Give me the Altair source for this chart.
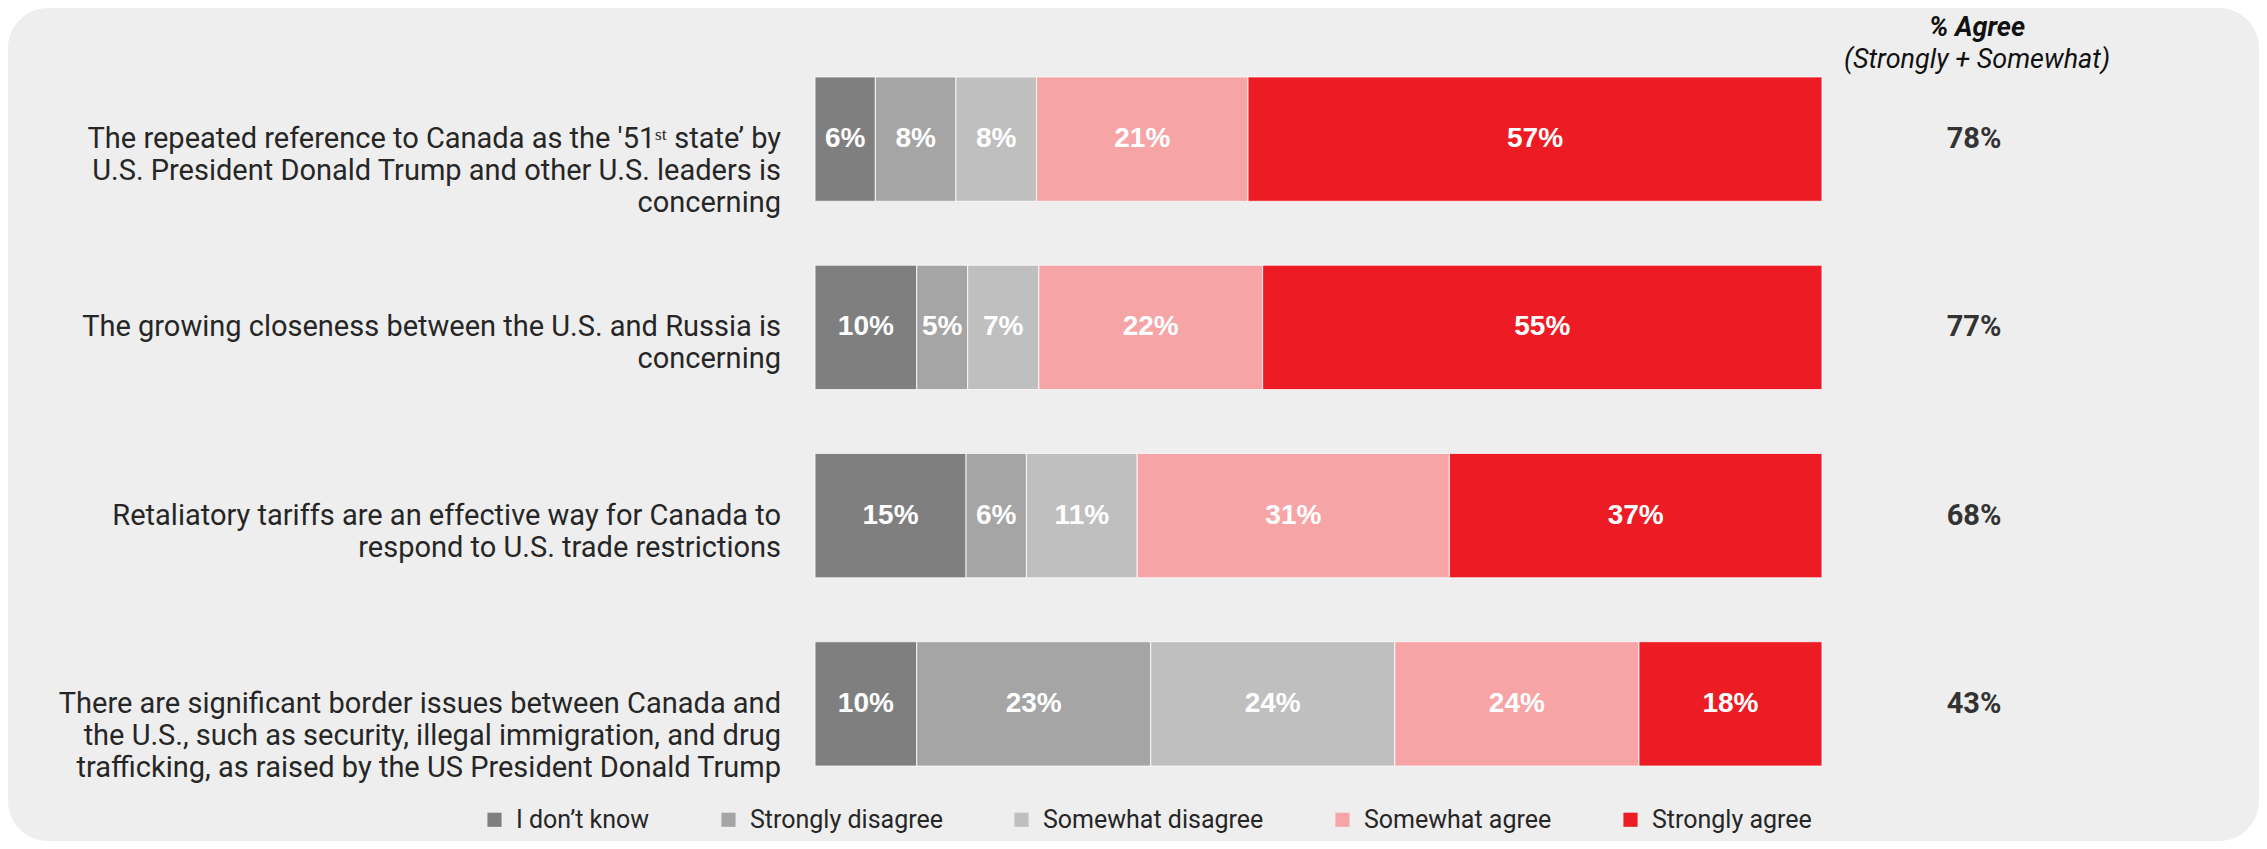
import altair as alt
import pandas as pd

# ---------------- data ----------------
statements = [
    "The repeated reference to Canada as the '51ˢᵗ state’ by\nU.S.  President Donald Trump and other U.S. leaders is\nconcerning",
    "The growing closeness between the U.S. and Russia is\nconcerning",
    "Retaliatory tariffs are an effective way for Canada to\nrespond to U.S. trade restrictions",
    "There are significant border issues between Canada and\nthe U.S.,  such as security, illegal immigration, and drug\ntrafficking, as raised by the US President Donald Trump",
]
row_keys = ["S1", "S2", "S3", "S4"]
categories = ["I don’t know", "Strongly disagree", "Somewhat disagree", "Somewhat agree", "Strongly agree"]
dont_know = [6, 10, 15, 10]
strongly_disagree = [8, 5, 6, 23]
somewhat_disagree = [8, 7, 11, 24]
somewhat_agree = [21, 22, 31, 24]
strongly_agree = [57, 55, 37, 18]
agree_total = [78, 77, 68, 43]
header_lines = ["% Agree", "(Strongly + Somewhat)"]
colors = ["#7F7F7F", "#A5A5A5", "#BFBFBF", "#F7A4A7", "#ED1C24"]

BG = "#EEEEEE"
TXT = "#262626"
FONT = "Roboto"

series = [dont_know, strongly_disagree, somewhat_disagree, somewhat_agree, strongly_agree]
rows = []
for i, key in enumerate(row_keys):
    total = sum(s[i] for s in series)
    start = 0.0
    for j, cat in enumerate(categories):
        v = series[j][i]
        share = v / total * 100  # 100% stacked bar
        rows.append({"key": key, "category": cat, "order": j, "value": v,
                     "start": start, "end": start + share, "mid": start + share / 2,
                     "label": f"{v}%"})
        start += share
df = pd.DataFrame(rows)
df_lab = pd.DataFrame({"key": row_keys, "text": statements,
                       "agree": [f"{a}%" for a in agree_total]})

W, H = 1007, 753
PAD = {"left": 807, "top": 37, "right": 437, "bottom": 43}

xscale = alt.Scale(domain=[0, 100], nice=False, zero=False)
yscale = alt.Scale(domain=row_keys, paddingInner=0.34, paddingOuter=0.17)

bg = alt.Chart(pd.DataFrame({"a": [0]})).mark_rect(color=BG, cornerRadius=40).encode(
    x=alt.value(-PAD["left"]), x2=alt.value(W + PAD["right"]),
    y=alt.value(-PAD["top"]), y2=alt.value(H + PAD["bottom"]),
)

bars = alt.Chart(df).mark_bar(stroke="white", strokeWidth=1.2, strokeOpacity=0.7).encode(
    x=alt.X("start:Q", scale=xscale, axis=None),
    x2="end:Q",
    y=alt.Y("key:N", scale=yscale, axis=None),
    color=alt.Color("category:N", scale=alt.Scale(domain=categories, range=colors),
                    legend=alt.Legend(title=None, orient="none", legendX=-333, legendY=762,
                                      direction="horizontal", symbolType="square",
                                      symbolSize=200, symbolStrokeWidth=0,
                                      labelFont=FONT, labelFontSize=25, labelColor=TXT,
                                      labelLimit=0, labelOffset=9, columnPadding=66,
                                      padding=0)),
)

bar_text = alt.Chart(df).mark_text(font="Liberation Sans", fontWeight="bold", fontSize=28,
                                   color="white", baseline="middle", align="center").encode(
    x=alt.X("mid:Q", scale=xscale, axis=None),
    y=alt.Y("key:N", scale=yscale, axis=None),
    text="label:N",
)

labels = alt.Chart(df_lab).mark_text(font=FONT, fontSize=29, lineHeight=32, color=TXT,
                                     align="right", baseline="middle", lineBreak="\n").encode(
    x=alt.value(-34),
    y=alt.Y("key:N", scale=yscale, axis=None),
    text="text:N",
)

agree = alt.Chart(df_lab).mark_text(font=FONT, fontSize=29, fontWeight="bold", color="#333333",
                                    align="center", baseline="middle").encode(
    x=alt.value(1159),
    y=alt.Y("key:N", scale=yscale, axis=None),
    text="agree:N",
)

head1 = alt.Chart(pd.DataFrame({"t": [header_lines[0]]})).mark_text(
    font=FONT, fontSize=27, fontWeight="bold", fontStyle="italic", color="#111111",
    align="center", baseline="middle").encode(
    x=alt.value(1162), y=alt.value(-17), text="t:N")

head2 = alt.Chart(pd.DataFrame({"t": [header_lines[1]]})).mark_text(
    font=FONT, fontSize=27, fontStyle="italic", color="#111111",
    align="center", baseline="middle").encode(
    x=alt.value(1162), y=alt.value(15), text="t:N")

chart = alt.layer(bg, bars, bar_text, labels, agree, head1, head2).properties(
    width=W, height=H, padding=PAD, autosize=alt.AutoSizeParams(type="none"),
    background="white",
).configure_view(stroke=None)

chart.save("out.html", embed_options={"renderer": "svg", "actions": False})
